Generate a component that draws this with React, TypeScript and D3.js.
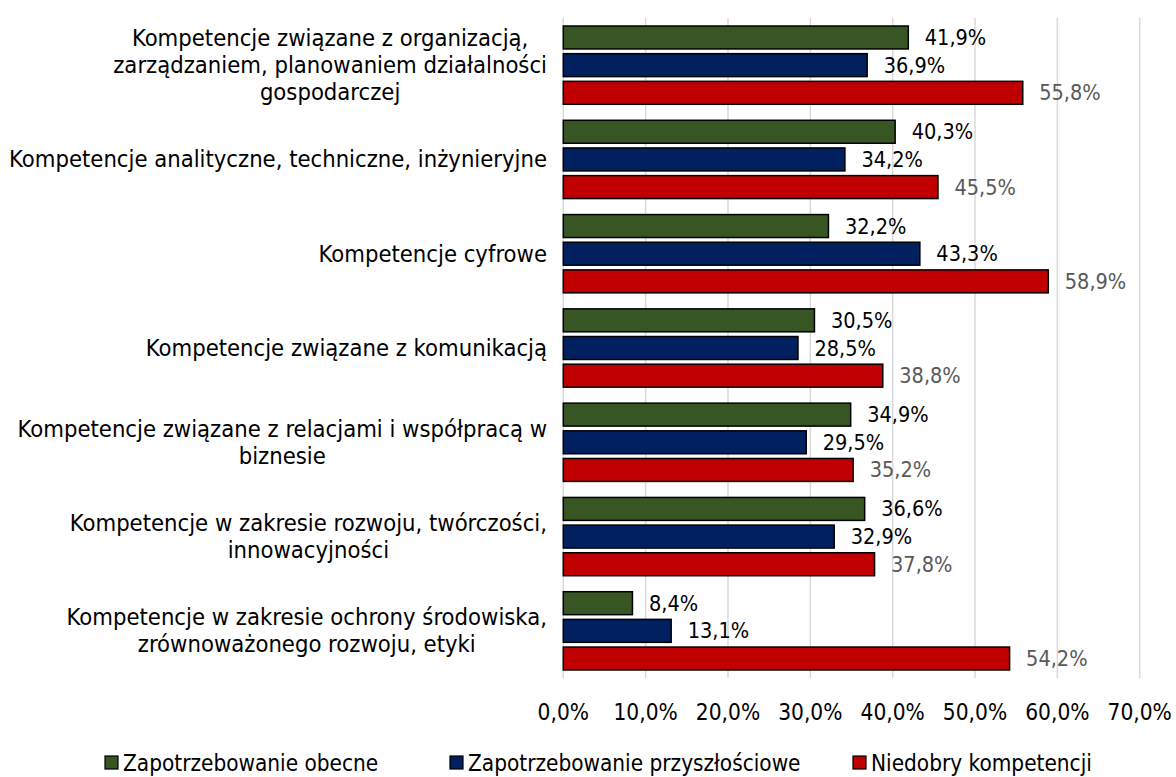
import React, { useEffect, useRef } from "react";
import * as d3 from "d3";

const categories: string[][] = [
  ["Kompetencje związane z organizacją,", "zarządzaniem, planowaniem działalności", "gospodarczej"],
  ["Kompetencje analityczne, techniczne, inżynieryjne"],
  ["Kompetencje cyfrowe"],
  ["Kompetencje związane z komunikacją"],
  ["Kompetencje związane z relacjami i współpracą w", "biznesie"],
  ["Kompetencje w zakresie rozwoju, twórczości,", "innowacyjności"],
  ["Kompetencje w zakresie ochrony środowiska,", "zrównoważonego rozwoju, etyki"],
];

const seriesNames = ["Zapotrzebowanie obecne", "Zapotrzebowanie przyszłościowe", "Niedobry kompetencji"];
const obecne = [41.9, 40.3, 32.2, 30.5, 34.9, 36.6, 8.4];
const przyszlosciowe = [36.9, 34.2, 43.3, 28.5, 29.5, 32.9, 13.1];
const niedobory = [55.8, 45.5, 58.9, 38.8, 35.2, 37.8, 54.2];
const xTicks = [0, 10, 20, 30, 40, 50, 60, 70];

const colors = ["#375623", "#002060", "#C00000"];
const labelColors = ["#000000", "#000000", "#595959"];
const FONT = "'DejaVu Sans Condensed', 'DejaVu Sans', sans-serif";

const fmt = (v: number) => v.toFixed(1).replace(".", ",") + "%";

export default function App() {
  const ref = useRef<SVGSVGElement>(null);
  useEffect(() => {
    const svg = d3.select(ref.current);
    svg.selectAll("*").remove();
    const left = 563.3, right = 1139.7, top = 18, bottom = 678;
    const x = d3.scaleLinear().domain([0, 70]).range([left, right]);
    const idx = categories.map((_, i) => i);
    const y = d3.scaleBand<number>().domain(idx).range([top, bottom]).padding(0);
    const inner = d3.scaleBand<number>().domain([0, 1, 2]).range([8, y.bandwidth() - 8]).paddingInner(0.17);
    const series = [obecne, przyszlosciowe, niedobory];

    // gridlines
    svg.append("g").selectAll("line").data(xTicks).join("line")
      .attr("x1", d => x(d)).attr("x2", d => x(d))
      .attr("y1", top).attr("y2", bottom)
      .attr("stroke", "#d9d9d9").attr("stroke-width", 1.5);

    // bars
    const g = svg.append("g");
    categories.forEach((_, ci) => {
      series.forEach((s, si) => {
        const y0 = (y(ci) as number) + (inner(si) as number);
        g.append("rect")
          .attr("x", x(0)).attr("y", y0)
          .attr("width", x(s[ci]) - x(0)).attr("height", inner.bandwidth())
          .attr("fill", colors[si]).attr("stroke", "#000").attr("stroke-width", 1.5);
        g.append("text")
          .attr("x", x(s[ci]) + 16.5).attr("y", y0 + inner.bandwidth() / 2)
          .attr("dominant-baseline", "central")
          .attr("font-family", FONT).attr("font-size", 21.5)
          .attr("fill", labelColors[si])
          .text(fmt(s[ci]));
      });
    });

    // category labels
    const labelRight = 547;
    const lineH = 27;
    categories.forEach((lines, ci) => {
      const cy = (y(ci) as number) + y.bandwidth() / 2;
      const grp = svg.append("g");
      const texts = lines.map((ln, li) =>
        grp.append("text")
          .attr("y", cy + (li - (lines.length - 1) / 2) * lineH)
          .attr("dominant-baseline", "central")
          .attr("text-anchor", "middle")
          .attr("font-family", FONT).attr("font-size", 23.6)
          .attr("fill", "#000")
          .text(ln)
      );
      const widths = texts.map(t => (t.node() as SVGTextElement).getComputedTextLength());
      const bw = Math.max(...widths);
      texts.forEach(t => t.attr("x", labelRight - bw / 2));
    });

    // x tick labels
    svg.append("g").selectAll("text").data(xTicks).join("text")
      .attr("x", d => x(d)).attr("y", 712)
      .attr("text-anchor", "middle").attr("dominant-baseline", "central")
      .attr("font-family", FONT).attr("font-size", 22.5).attr("fill", "#000")
      .text(d => fmt(d));

    // legend
    const legendX = [105, 450, 853];
    const lg = svg.append("g");
    seriesNames.forEach((n, i) => {
      lg.append("rect").attr("x", legendX[i]).attr("y", 756).attr("width", 13).attr("height", 13)
        .attr("fill", colors[i]).attr("stroke", "#000").attr("stroke-width", 1.2);
      lg.append("text").attr("x", legendX[i] + 18).attr("y", 763)
        .attr("dominant-baseline", "central")
        .attr("font-family", FONT).attr("font-size", 22.4).attr("fill", "#000")
        .text(n);
    });
  }, []);
  return (
    <svg ref={ref} width={1176} height={777}
      style={{ position: "absolute", left: 0, top: 0, background: "#fff" }} />
  );
}
